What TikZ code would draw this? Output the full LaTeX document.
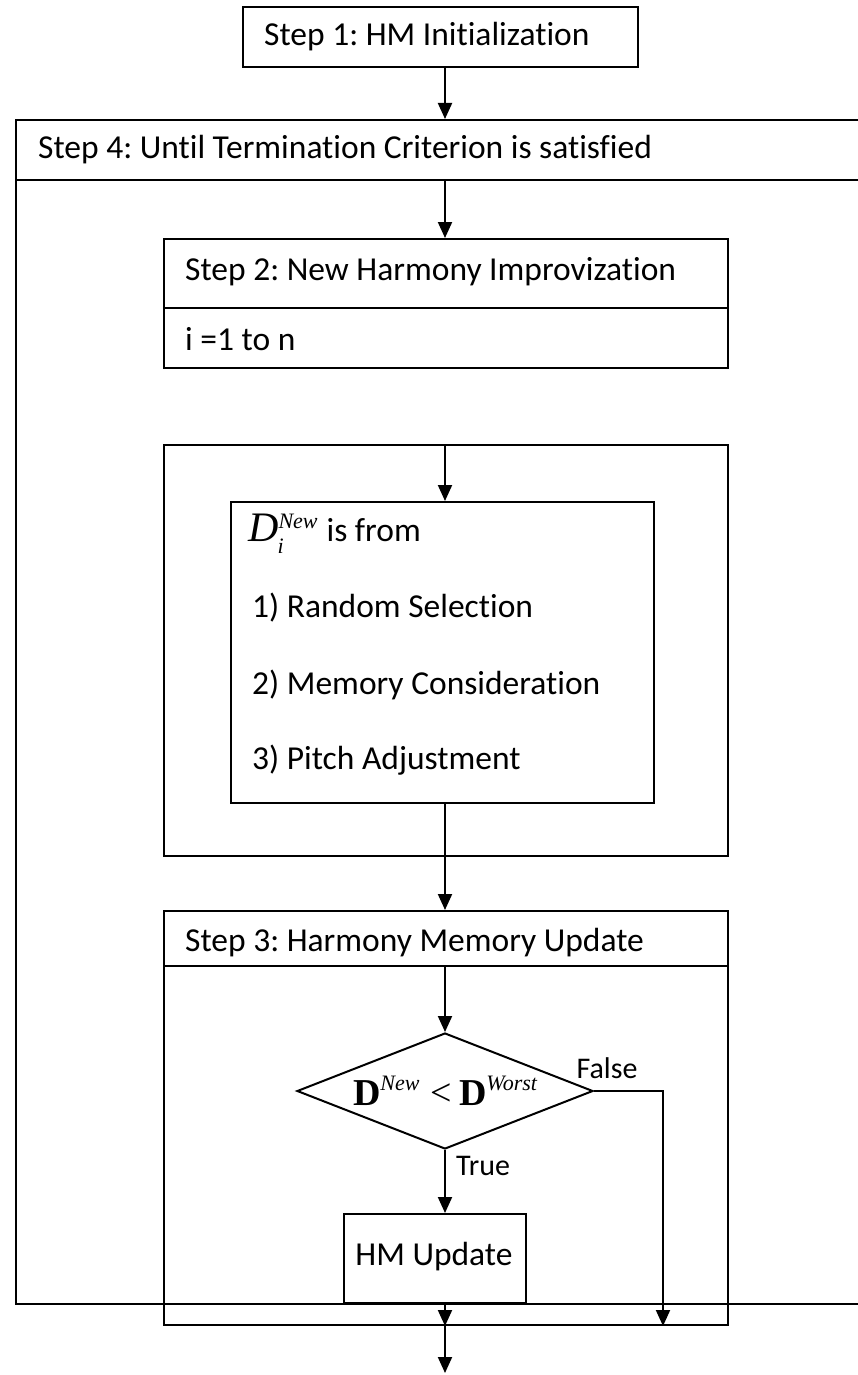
\documentclass[tikz,border=0pt]{standalone}
\usepackage{fontspec}
\setmainfont{Carlito}[Ligatures=NoCommon]
\newfontfamily\tms{Liberation Serif}
\usetikzlibrary{arrows.meta,shapes.geometric}
\frenchspacing
\begin{document}
\begin{tikzpicture}[x=1pt,y=-1pt,
  box/.style={draw,line width=2pt,inner sep=0pt,anchor=north west},
  lbl/.style={inner sep=0pt,anchor=west,font=\fontsize{33.5}{40}\selectfont},
  arr/.style={line width=2pt,-{Triangle[length=16pt,width=14pt]}},
  ln/.style={line width=2pt}]
\useasboundingbox (0,0) rectangle (857,1375);
\coordinate (cx) at (445,0);
% Step 1
\node[box,minimum width=395pt,minimum height=60pt] (s1) at (242,6) {};
\node[lbl] (s1t) at (264,37) {Step 1: HM Initialization};
% Step 4
\node[box,minimum width=870pt,minimum height=60pt] (s4h) at (15,119) {};
\node[box,minimum width=870pt,minimum height=1124pt] (s4) at (15,179) {};
\node[lbl] (s4t) at (38,150) {Step 4: Until Termination Criterion is satisfied};
% Step 2
\node[box,minimum width=564pt,minimum height=69pt] (s2h) at (163,238) {};
\node[box,minimum width=564pt,minimum height=60pt] (s2b) at (163,307) {};
\node[lbl] (s2t) at (185,272) {Step 2: New Harmony Improvization};
\node[lbl] (s2i) at (185,339) {i =1 to n};
% loop
\node[box,minimum width=564pt,minimum height=411pt] (lp) at (163,444) {};
\node[box,minimum width=423pt,minimum height=301pt] (dn) at (230,501) {};
\node[inner sep=0pt,anchor=west] (dt) at (248,534) {{\tms\itshape\fontsize{42}{44}\selectfont D}\raisebox{13pt}{\tms\itshape\fontsize{22}{22}\selectfont New}\llap{\raisebox{-12pt}{\tms\itshape\fontsize{22}{22}\selectfont i}\hspace{34pt}}\hspace{9pt}{\fontsize{33.5}{40}\selectfont is from}};
\node[lbl] (d1) at (252,608) {1) Random Selection};
\node[lbl] (d2) at (252,685) {2) Memory Consideration};
\node[lbl] (d3) at (252,760) {3) Pitch Adjustment};
% Step 3
\node[box,minimum width=564pt,minimum height=55pt] (s3h) at (163,910) {};
\node[box,minimum width=564pt,minimum height=359pt] (s3) at (163,965) {};
\node[lbl] (s3t) at (185,943) {Step 3: Harmony Memory Update};
\node[draw,line width=2pt,diamond,inner sep=0pt,aspect=2.55,minimum width=296pt,minimum height=116pt] (dm) at (445,1091) {\tms\fontsize{38}{40}\selectfont\textbf{D}\raisebox{15pt}{\fontsize{22}{22}\selectfont\itshape New}\hspace{11pt}<\hspace{7pt}\textbf{D}\raisebox{15pt}{\fontsize{22}{22}\selectfont\itshape Worst}};
\node[box,minimum width=182pt,minimum height=89pt] (hm) at (343,1213) {};
\node[inner sep=0pt,font=\fontsize{33.5}{40}\selectfont] (hmt) at (434,1257) {HM Update};
\node[inner sep=0pt,font=\fontsize{30}{36}\selectfont] (fl) at (607,1068) {False};
\node[inner sep=0pt,font=\fontsize{30}{36}\selectfont] (tr) at (483,1166) {True};
\coordinate (fc) at (663,1091);
\coordinate (out) at (445,1373);
% connectors
\draw[arr] (s1.south -| cx) -- (cx |- s4h.north);
\draw[arr] (s4h.south -| cx) -- (cx |- s2h.north);
\draw[arr] (lp.north -| cx) -- (cx |- dn.north);
\draw[ln] (dn.south -| cx) -- (cx |- lp.south);
\draw[arr] (lp.south -| cx) -- (cx |- s3h.north);
\draw[arr] (s3h.south -| cx) -- (dm.north);
\draw[arr] (dm.south) -- (dm.south |- hm.north);
\draw[arr] (dm.east) -- (fc) -- (fc |- s3.south);
\draw[arr] (hm.south -| cx) -- (cx |- s3.south);
\draw[arr] (s3.south -| cx) -- (out);
\end{tikzpicture}
\end{document}
